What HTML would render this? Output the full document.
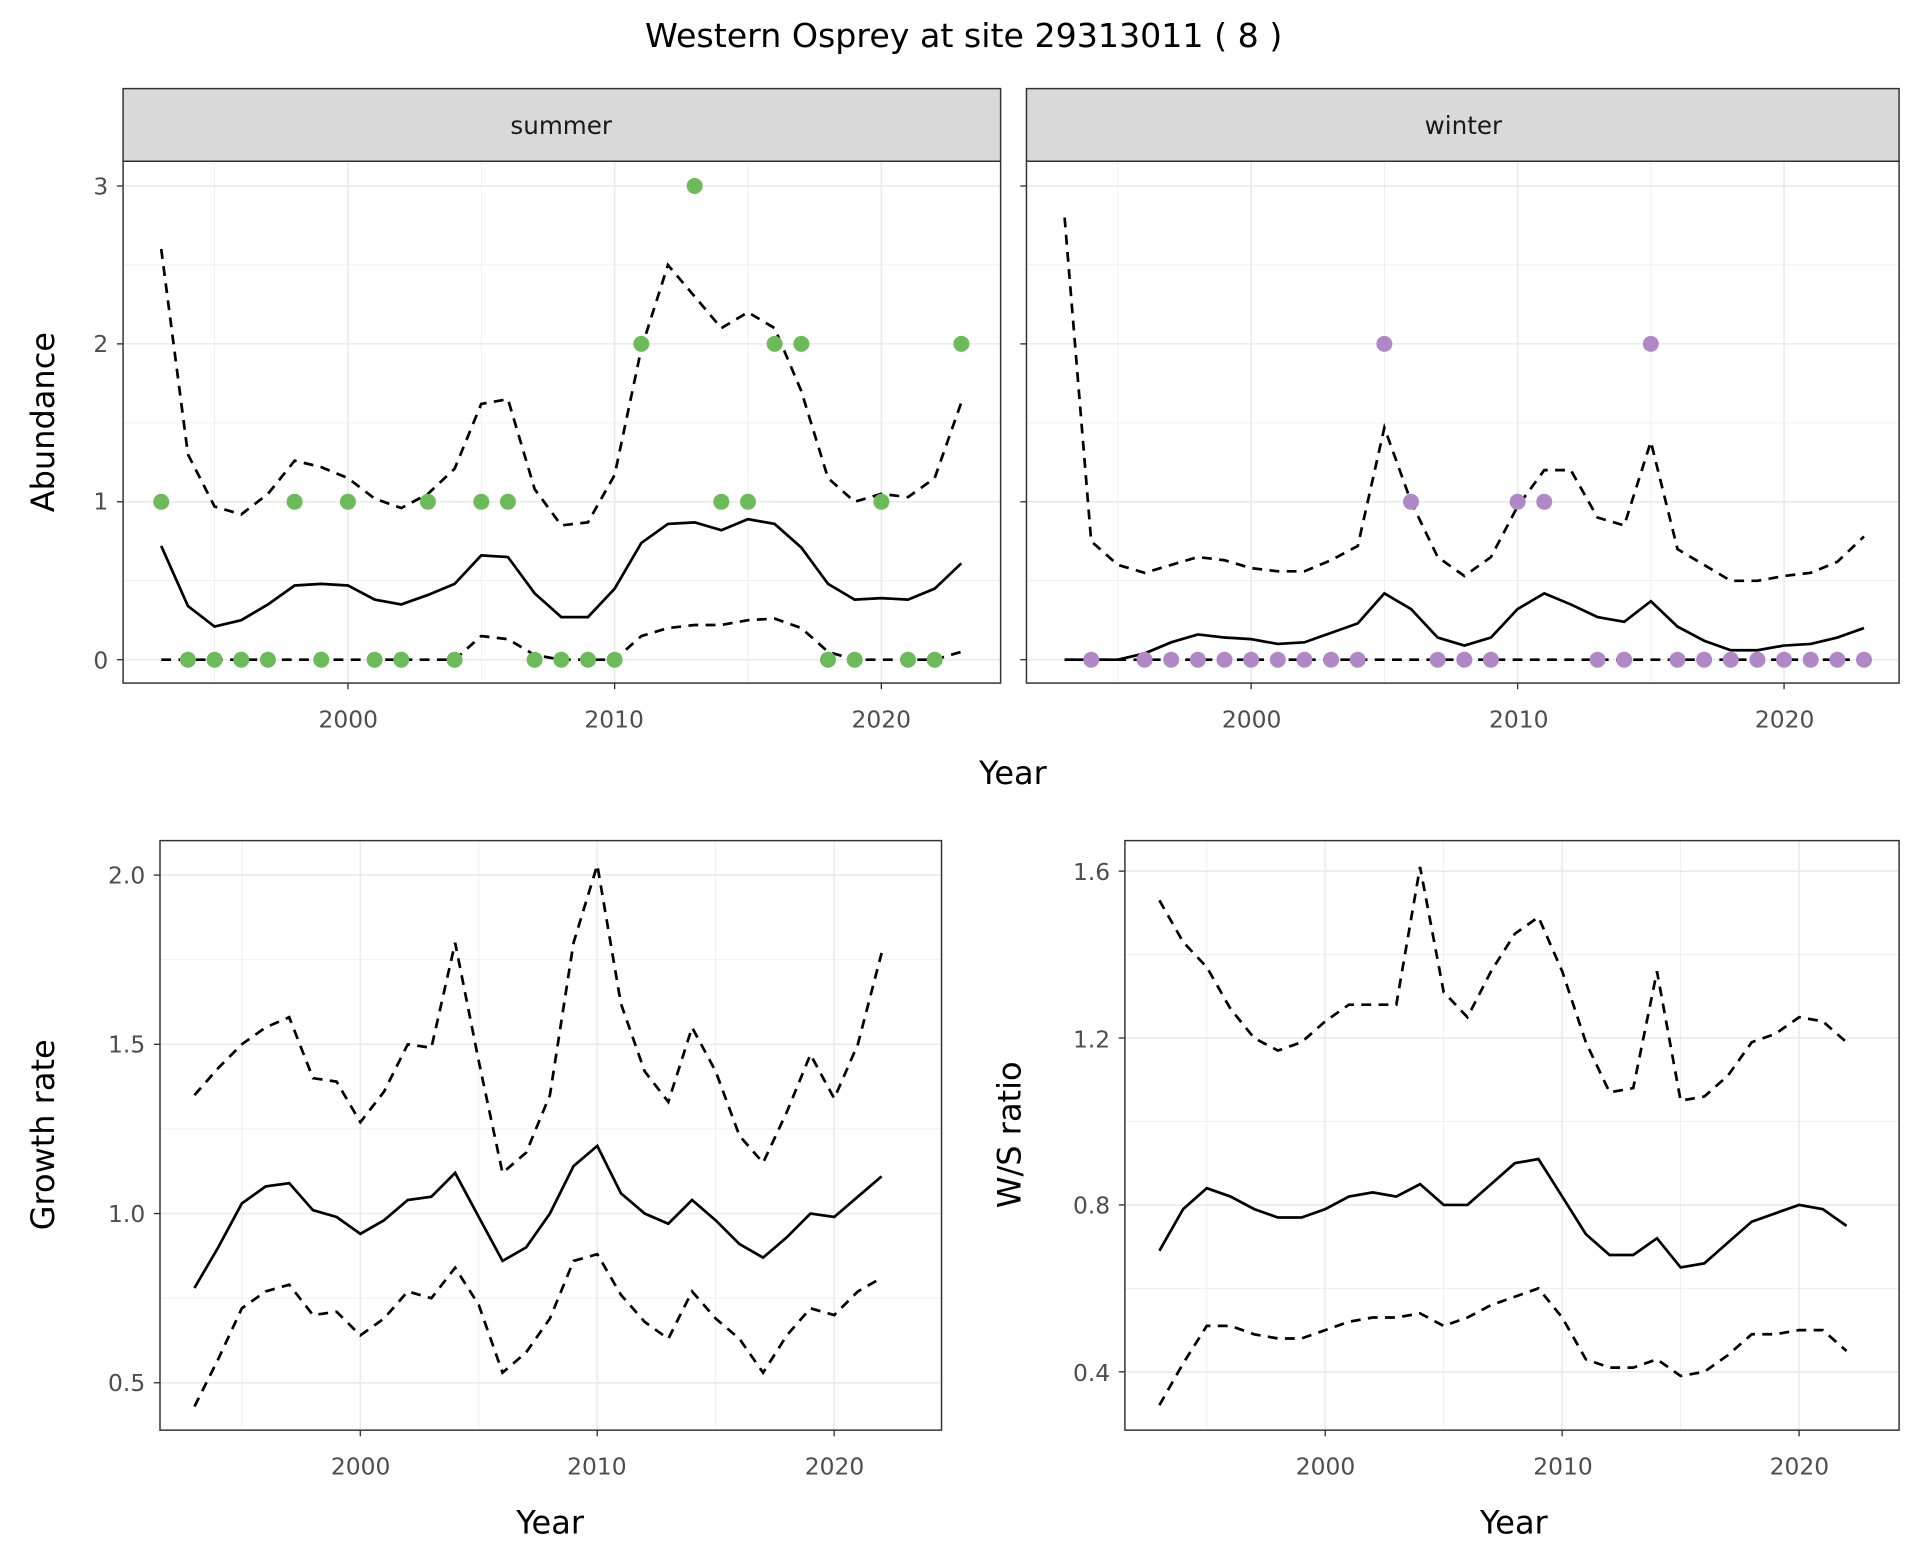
<!DOCTYPE html>
<html><head><meta charset="utf-8"><style>
html,body{margin:0;padding:0;background:#fff}
svg{display:block}
text{font-family:"DejaVu Sans","Liberation Sans",sans-serif}
.tk{font-size:19px;fill:#4d4d4d}
.at{font-size:26px;fill:#000}
.st{font-size:20px;fill:#1a1a1a}
</style></head><body>
<svg id="s" width="1920" height="1560" viewBox="0 0 1560 1267.5" xmlns="http://www.w3.org/2000/svg">
<rect width="1560" height="1267.5" fill="#fff"/>
<g id="g"></g>
<text x="783" y="38" text-anchor="middle" style="font-size:27px">Western Osprey at site 29313011 ( 8 )</text>
<rect x="100" y="72" width="713" height="59" fill="#d9d9d9" stroke="#333" stroke-width="1.2"/>
<rect x="834" y="72" width="709" height="59" fill="#d9d9d9" stroke="#333" stroke-width="1.2"/>
<text class="st" x="456" y="109" text-anchor="middle">summer</text>
<text class="st" x="1189" y="109" text-anchor="middle">winter</text>
<text class="tk" x="88" y="543" text-anchor="end">0</text>
<text class="tk" x="88" y="414" text-anchor="end">1</text>
<text class="tk" x="88" y="286" text-anchor="end">2</text>
<text class="tk" x="88" y="158" text-anchor="end">3</text>
<text class="tk" x="283" y="591" text-anchor="middle">2000</text>
<text class="tk" x="499" y="591" text-anchor="middle">2010</text>
<text class="tk" x="716" y="591" text-anchor="middle">2020</text>
<text class="tk" x="1017" y="591" text-anchor="middle">2000</text>
<text class="tk" x="1234" y="591" text-anchor="middle">2010</text>
<text class="tk" x="1450" y="591" text-anchor="middle">2020</text>
<text class="at" x="823" y="637" text-anchor="middle">Year</text>
<text class="at" transform="translate(44,343) rotate(-90)" text-anchor="middle">Abundance</text>
<text class="tk" x="118" y="718" text-anchor="end">2.0</text>
<text class="tk" x="118" y="855" text-anchor="end">1.5</text>
<text class="tk" x="118" y="993" text-anchor="end">1.0</text>
<text class="tk" x="118" y="1130" text-anchor="end">0.5</text>
<text class="tk" x="293" y="1198" text-anchor="middle">2000</text>
<text class="tk" x="485" y="1198" text-anchor="middle">2010</text>
<text class="tk" x="678" y="1198" text-anchor="middle">2020</text>
<text class="at" x="447" y="1246" text-anchor="middle">Year</text>
<text class="at" transform="translate(44,922) rotate(-90)" text-anchor="middle">Growth rate</text>
<text class="tk" x="902" y="715" text-anchor="end">1.6</text>
<text class="tk" x="902" y="851" text-anchor="end">1.2</text>
<text class="tk" x="902" y="986" text-anchor="end">0.8</text>
<text class="tk" x="902" y="1122" text-anchor="end">0.4</text>
<text class="tk" x="1077" y="1198" text-anchor="middle">2000</text>
<text class="tk" x="1270" y="1198" text-anchor="middle">2010</text>
<text class="tk" x="1462" y="1198" text-anchor="middle">2020</text>
<text class="at" x="1230" y="1246" text-anchor="middle">Year</text>
<text class="at" transform="translate(829,922) rotate(-90)" text-anchor="middle">W/S ratio</text>
</svg>
<script>
var g=document.getElementById('g'),NS='http://www.w3.org/2000/svg';
function el(t,a){var e=document.createElementNS(NS,t);for(var k in a)e.setAttribute(k,a[k]);g.appendChild(e);return e;}
function panel(P){
 el('rect',{x:P.x0,y:P.y0,width:P.x1-P.x0,height:P.y1-P.y0,fill:'#fff'});
 var X=function(yr){return P.xa+(yr-1993)*P.xs;},Y=function(v){return P.yb+(v-P.vb)*P.vs;};
 P.ymin.forEach(function(v){el('line',{x1:P.x0,x2:P.x1,y1:Y(v),y2:Y(v),stroke:'#ebebeb','stroke-width':0.6});});
 [1995,2005,2015].forEach(function(v){el('line',{y1:P.y0,y2:P.y1,x1:X(v),x2:X(v),stroke:'#ebebeb','stroke-width':0.6});});
 P.ymaj.forEach(function(v){el('line',{x1:P.x0,x2:P.x1,y1:Y(v),y2:Y(v),stroke:'#ebebeb','stroke-width':1.3});
   el('line',{x1:P.x0-5,x2:P.x0,y1:Y(v),y2:Y(v),stroke:'#333','stroke-width':1.1});});
 [2000,2010,2020].forEach(function(v){el('line',{y1:P.y0,y2:P.y1,x1:X(v),x2:X(v),stroke:'#ebebeb','stroke-width':1.3});
   el('line',{y1:P.y1,y2:P.y1+5,x1:X(v),x2:X(v),stroke:'#333','stroke-width':1.1});});
 function line(d,dash){var s='';d.forEach(function(v,i){s+=(i?'L':'M')+X(1993+i).toFixed(1)+','+Y(v).toFixed(1);});
  var a={d:s,fill:'none',stroke:'#000','stroke-width':2.2};if(dash)a['stroke-dasharray']='8,6';el('path',a);}
 line(P.up,1);line(P.lo,1);line(P.m,0);
 if(P.pts)P.pts.forEach(function(p){el('circle',{cx:X(p[0]),cy:Y(p[1]),r:6.5,fill:P.col});});
 el('rect',{x:P.x0,y:P.y0,width:P.x1-P.x0,height:P.y1-P.y0,fill:'none',stroke:'#333','stroke-width':1.2});
}
var sp=[[1993,1],[1994,0],[1995,0],[1996,0],[1997,0],[1998,1],[1999,0],[2000,1],[2001,0],[2002,0],[2003,1],[2004,0],[2005,1],[2006,1],[2007,0],[2008,0],[2009,0],[2010,0],[2011,2],[2013,3],[2014,1],[2015,1],[2016,2],[2017,2],[2018,0],[2019,0],[2020,1],[2021,0],[2022,0],[2023,2]];
panel({x0:100,x1:813,y0:131,y1:555,xa:131,xs:21.67,yb:536,vb:0,vs:-128.3,ymaj:[0,1,2,3],ymin:[0.5,1.5,2.5],
 m:[0.72,0.34,0.21,0.25,0.35,0.47,0.48,0.47,0.38,0.35,0.41,0.48,0.66,0.65,0.42,0.27,0.27,0.45,0.74,0.86,0.87,0.82,0.89,0.86,0.71,0.48,0.38,0.39,0.38,0.45,0.61],
 up:[2.6,1.3,0.97,0.92,1.05,1.26,1.22,1.15,1.02,0.96,1.05,1.21,1.62,1.65,1.08,0.85,0.87,1.17,1.97,2.5,2.3,2.1,2.2,2.1,1.7,1.15,1.0,1.05,1.03,1.15,1.63],
 lo:[0,0,0,0,0,0,0,0,0,0,0,0,0.15,0.13,0.03,0,0,0,0.15,0.2,0.22,0.22,0.25,0.26,0.2,0.05,0,0,0,0,0.05],
 pts:sp,col:'#6bbb5a'});
var wp=[];for(var y=1994;y<=2023;y++){if(y==1995||y==2012)continue;var v=0;if(y==2005||y==2015)v=2;if(y==2006||y==2010||y==2011)v=1;wp.push([y,v]);}
panel({x0:834,x1:1543,y0:131,y1:555,xa:865,xs:21.65,yb:536,vb:0,vs:-128.3,ymaj:[0,1,2,3],ymin:[0.5,1.5,2.5],
 m:[0,0,0,0.04,0.11,0.16,0.14,0.13,0.1,0.11,0.17,0.23,0.42,0.32,0.14,0.09,0.14,0.32,0.42,0.35,0.27,0.24,0.37,0.21,0.12,0.06,0.06,0.09,0.1,0.14,0.2],
 up:[2.8,0.75,0.6,0.55,0.6,0.65,0.63,0.58,0.56,0.56,0.63,0.72,1.47,1.0,0.65,0.53,0.65,0.97,1.2,1.2,0.9,0.85,1.38,0.7,0.6,0.5,0.5,0.53,0.55,0.62,0.78],
 lo:[0,0,0,0,0,0,0,0,0,0,0,0,0,0,0,0,0,0,0,0,0,0,0,0,0,0,0,0,0,0,0],
 pts:wp,col:'#b088c8'});
panel({x0:130,x1:765,y0:683,y1:1162,xa:158,xs:19.25,yb:986,vb:1,vs:-275,ymaj:[0.5,1,1.5,2],ymin:[0.75,1.25,1.75],
 m:[0.78,0.9,1.03,1.08,1.09,1.01,0.99,0.94,0.98,1.04,1.05,1.12,0.99,0.86,0.9,1.0,1.14,1.2,1.06,1.0,0.97,1.04,0.98,0.91,0.87,0.93,1.0,0.99,1.05,1.11],
 up:[1.35,1.43,1.5,1.55,1.58,1.4,1.39,1.27,1.36,1.5,1.49,1.8,1.45,1.12,1.18,1.35,1.8,2.03,1.62,1.42,1.33,1.55,1.42,1.23,1.15,1.3,1.47,1.34,1.5,1.77],
 lo:[0.43,0.57,0.72,0.77,0.79,0.7,0.71,0.64,0.69,0.77,0.75,0.84,0.73,0.53,0.59,0.69,0.86,0.88,0.76,0.68,0.63,0.77,0.69,0.63,0.53,0.64,0.72,0.7,0.77,0.81]});
panel({x0:914,x1:1543,y0:683,y1:1162,xa:942,xs:19.25,yb:979,vb:0.8,vs:-339,ymaj:[0.4,0.8,1.2,1.6],ymin:[0.6,1.0,1.4],
 m:[0.69,0.79,0.84,0.82,0.79,0.77,0.77,0.79,0.82,0.83,0.82,0.85,0.8,0.8,0.85,0.9,0.91,0.82,0.73,0.68,0.68,0.72,0.65,0.66,0.71,0.76,0.78,0.8,0.79,0.75],
 up:[1.53,1.43,1.37,1.27,1.2,1.17,1.19,1.24,1.28,1.28,1.28,1.61,1.31,1.25,1.36,1.45,1.49,1.36,1.19,1.07,1.08,1.36,1.05,1.06,1.11,1.19,1.21,1.25,1.24,1.19],
 lo:[0.32,0.42,0.51,0.51,0.49,0.48,0.48,0.5,0.52,0.53,0.53,0.54,0.51,0.53,0.56,0.58,0.6,0.53,0.43,0.41,0.41,0.43,0.39,0.4,0.44,0.49,0.49,0.5,0.5,0.45]});
</script>
</body></html>
